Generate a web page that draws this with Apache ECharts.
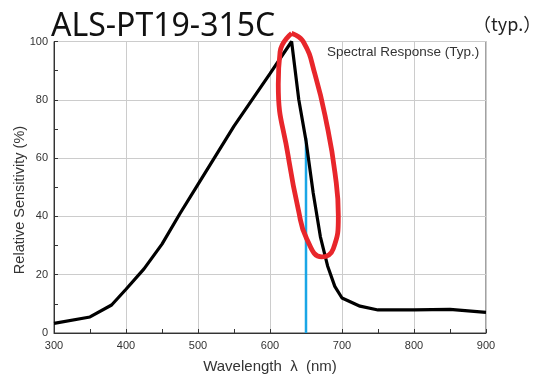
<!DOCTYPE html>
<html><head><meta charset="utf-8">
<script src="https://cdn.jsdelivr.net/npm/echarts@6/dist/echarts.min.js"></script>
<style>html,body{margin:0;padding:0;background:#fff}#c{width:534px;height:379px}</style>
</head><body><div id="c"></div>
<script>
// Spectral response curve (wavelength nm, relative sensitivity %)
const wavelength = [300,350,380,400,425,450,475,500,550,600,630,640,650,660,670,680,690,700,725,750,800,850,900];
const sensitivity = [3.3,5.5,9.6,15,22,30.5,41,51,71,89,100,80,66,48,33,23,16,12,9.2,7.9,7.9,8.1,7.1];
// Marker line at 650 nm
const markerX = [650,650];
const markerY = [0,67];
// Hand-drawn red oval annotation outline (nm, %)
const ovalX = [630,614,611.5,625.4,639.3,651,671.8,687.9,694.9,690.3,678.8,662.5,646.3,630];
const ovalY = [102.8,96.5,85.3,60.5,42.4,32.3,26.1,28.9,40.2,54.8,71.7,88.7,99.9,102.8];
const xTicks = [300,400,500,600,700,800,900];
const yTicks = [0,20,40,60,80,100];

const zip = (a,b)=>a.map((v,i)=>[v,b[i]]);
const chart = echarts.init(document.getElementById('c'));
const lab = {color:'#333', fontFamily:'Liberation Sans, Arial', fontSize:11};
chart.setOption({
  animation:false,
  title:[
    {text:'ALS-PT19-315C', left:46, top:6, textStyle:{fontSize:32, fontWeight:'normal', color:'#111', fontFamily:'Noto Sans'}},
    {text:'（typ.）', left:468, top:10, textStyle:{fontSize:18, fontWeight:'normal', color:'#222', fontFamily:'Noto Sans CJK JP'}},
    {text:'Spectral Response (Typ.)', left:322, top:40, textStyle:{fontSize:13.5, fontWeight:'normal', color:'#333', fontFamily:'Liberation Sans, Arial'}}
  ],
  graphic:[
    {type:'text', x:12, y:200, rotation:Math.PI/2, style:{text:'Relative Sensitivity (%)', fontSize:14.5, fill:'#333', fontFamily:'Liberation Sans, Arial', align:'center', verticalAlign:'top'}}
  ],
  grid:{left:54, right:48, top:41.5, bottom:42, show:true, borderColor:'#444', borderWidth:1},
  xAxis:{type:'value', min:300, max:900, interval:100,
    name:'Wavelength  λ  (nm)', nameLocation:'middle', nameGap:26,
    nameTextStyle:{fontSize:15, color:'#333', fontFamily:'Liberation Sans, Arial'},
    axisLine:{lineStyle:{color:'#333'}},
    axisTick:{inside:true, length:4, lineStyle:{color:'#333'}},
    minorTick:{show:true, splitNumber:2, length:4, lineStyle:{color:'#333'}},
    axisLabel:Object.assign({margin:7, formatter:v=>xTicks.includes(v)?String(v):''}, lab),
    splitLine:{lineStyle:{color:'#ccc'}}},
  yAxis:{type:'value', min:0, max:100, interval:20,
    axisLine:{show:true, lineStyle:{color:'#333'}},
    axisTick:{show:true, inside:true, length:4, lineStyle:{color:'#333'}},
    minorTick:{show:true, splitNumber:2, length:4, lineStyle:{color:'#333'}},
    axisLabel:Object.assign({margin:6, formatter:v=>yTicks.includes(v)?String(v):''}, lab),
    splitLine:{lineStyle:{color:'#ccc'}}},
  series:[
    {type:'line', data:zip(markerX,markerY), symbol:'none', lineStyle:{color:'#1aa6e6', width:2.5}, z:2},
    {type:'line', data:zip(wavelength,sensitivity), symbol:'none', lineStyle:{color:'#000', width:3.2}, z:3},
    {type:'line', data:zip(ovalX,ovalY), symbol:'none', smooth:0.5, clip:false, lineStyle:{color:'#e8262b', width:4.8}, z:4}
  ]
});
</script></body></html>
